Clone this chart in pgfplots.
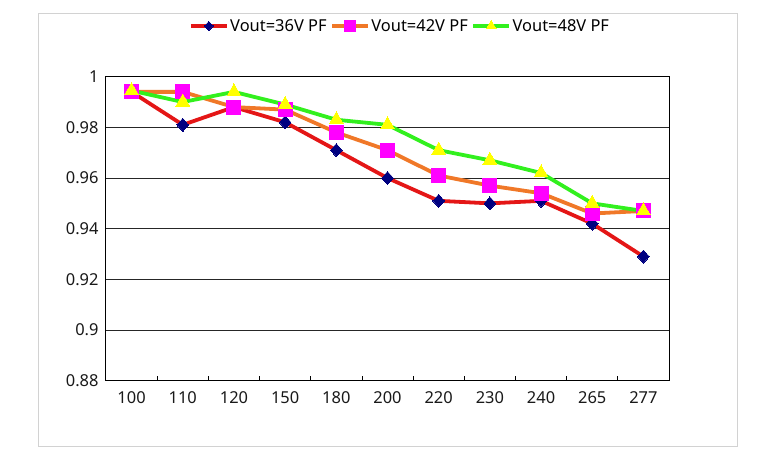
\documentclass[border=0pt]{standalone}
\usepackage{fontspec}
\setmainfont{Noto Sans}
\usepackage{pgfplots}
\pgfplotsset{compat=1.18}
\definecolor{cred}{RGB}{228,22,22}
\definecolor{corange}{RGB}{240,120,40}
\definecolor{cgreen}{RGB}{50,240,30}
\definecolor{cnavy}{RGB}{0,0,128}
\definecolor{cmag}{RGB}{255,0,255}
\definecolor{cyel}{RGB}{255,255,0}
\definecolor{cborder}{RGB}{210,210,210}
\begin{document}
\begin{tikzpicture}
\path (-106bp,-82.3bp) rectangle (677bp,380.7bp);
\draw[cborder, line width=1.2bp] (-67.7bp,-66bp) rectangle (631.3bp,367.4bp);
\begin{axis}[
  at={(0bp,0bp)}, anchor=south west,
  scale only axis, width=563bp, height=304bp,
  xmin=-0.5, xmax=10.5, ymin=0.88, ymax=1,
  clip=false,
  xtick={0,1,2,3,4,5,6,7,8,9,10},
  xticklabels={100,110,120,150,180,200,220,230,240,265,277},
  minor xtick={0.5,1.5,2.5,3.5,4.5,5.5,6.5,7.5,8.5,9.5},
  major x tick style={draw=none},
  minor x tick style={black, line width=0.8bp},
  minor tick length=5bp,
  xtick align=inside,
  xtick pos=left,
  ytick={0.88,0.9,0.92,0.94,0.96,0.98,1},
  ytick style={draw=none},
  ymajorgrids,
  grid style={black!85, line width=0.8bp},
  axis line style={black, line width=1bp},
  yticklabel style={/pgf/number format/fixed, /pgf/number format/precision=2, xshift=-4bp},
  xticklabel style={yshift=-7bp},
  /pgf/number format/assume math mode=true,
  tick label style={font=\fontsize{16.5}{19}\selectfont, text=black!90},
  legend style={at={(0.5217,1.1668)}, anchor=center, draw=none, fill=none,
    font=\fontsize{16.5}{19}\selectfont, /tikz/every even column/.append style={column sep=2bp},
    inner sep=0pt, nodes={inner sep=1.5bp}},
  legend columns=3,
  legend image code/.code={\draw[mark repeat=2,mark phase=2,#1,every mark/.append style={scale=0.72}] plot coordinates {(0bp,0bp)(18bp,0bp)(36bp,0bp)};},
]
\addplot[cred, line width=3.8bp, mark=diamond*, mark size=6.5bp, mark options={fill=cnavy, draw=cnavy, line width=0pt, xscale=1.2}]
  coordinates {(0,0.994)(1,0.981)(2,0.988)(3,0.982)(4,0.971)(5,0.960)(6,0.951)(7,0.950)(8,0.951)(9,0.942)(10,0.929)};
\addlegendentry{Vout=36V PF}
\addplot[corange, line width=3.8bp, mark=square*, mark size=7bp, mark options={fill=cmag, draw=cmag, line width=0pt}]
  coordinates {(0,0.994)(1,0.994)(2,0.988)(3,0.987)(4,0.978)(5,0.971)(6,0.961)(7,0.957)(8,0.954)(9,0.946)(10,0.947)};
\addlegendentry{Vout=42V PF}
\addplot[cgreen, line width=3.8bp, mark=triangle*, mark size=8bp, mark options={fill=cyel, draw=cyel, line width=0pt}]
  coordinates {(0,0.9945)(1,0.990)(2,0.994)(3,0.989)(4,0.983)(5,0.981)(6,0.971)(7,0.967)(8,0.962)(9,0.950)(10,0.947)};
\addlegendentry{Vout=48V PF}
\end{axis}
\end{tikzpicture}
\end{document}
